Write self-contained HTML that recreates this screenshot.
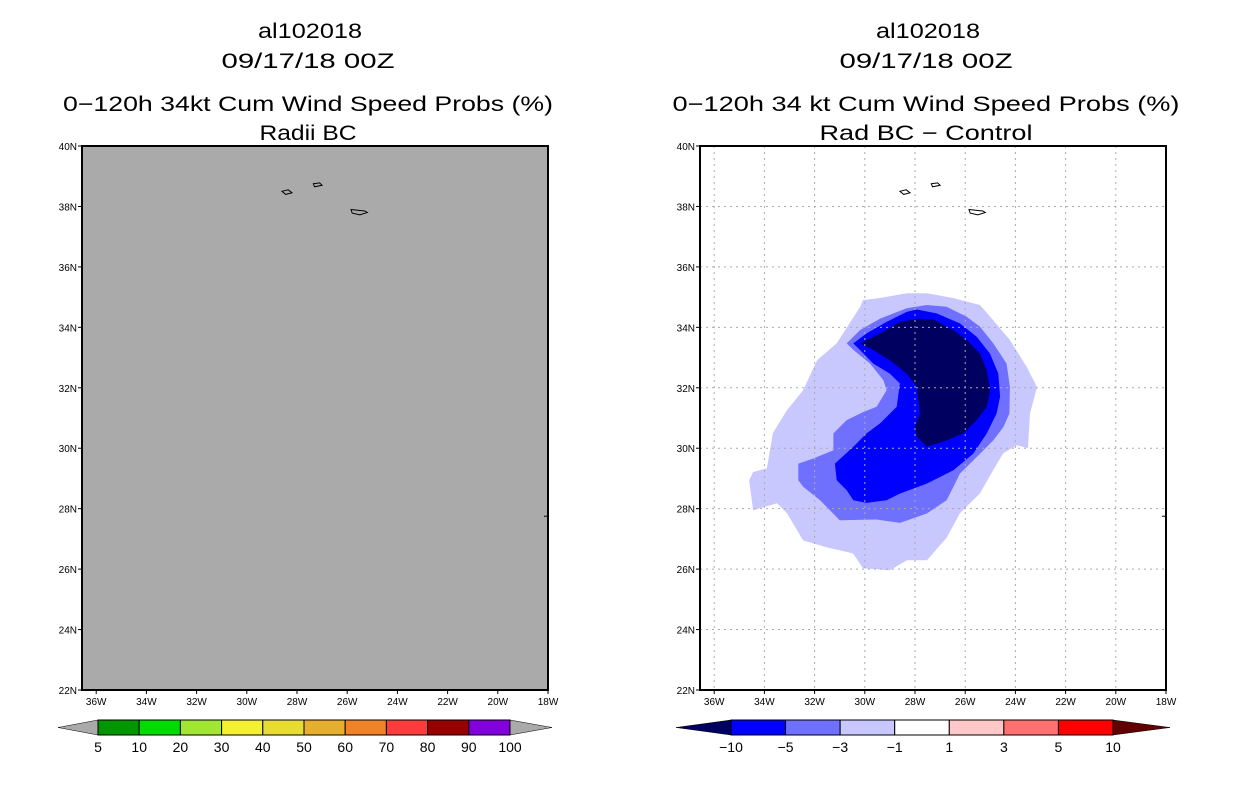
<!DOCTYPE html>
<html><head><meta charset="utf-8"><style>
html,body{margin:0;padding:0;background:#fff;}
svg{display:block;font-family:"Liberation Sans",sans-serif;}
</style></head><body>
<svg id="fig" width="1236" height="800" viewBox="0 0 1236 800" xmlns="http://www.w3.org/2000/svg">
<g font-size="21" text-anchor="middle" fill="#000">
<text x="310" y="38" textLength="104" lengthAdjust="spacingAndGlyphs">al102018</text>
<text x="308" y="68" textLength="173" lengthAdjust="spacingAndGlyphs">09/17/18 00Z</text>
<text x="308" y="111" textLength="490" lengthAdjust="spacingAndGlyphs">0−120h 34kt Cum Wind Speed Probs (%)</text>
<text x="308" y="140" textLength="97" lengthAdjust="spacingAndGlyphs">Radii BC</text>
</g>
<g font-size="21" text-anchor="middle" fill="#000">
<text x="928" y="38" textLength="104" lengthAdjust="spacingAndGlyphs">al102018</text>
<text x="926" y="68" textLength="173" lengthAdjust="spacingAndGlyphs">09/17/18 00Z</text>
<text x="926" y="111" textLength="507" lengthAdjust="spacingAndGlyphs">0−120h 34 kt Cum Wind Speed Probs (%)</text>
<text x="926" y="140" textLength="213" lengthAdjust="spacingAndGlyphs">Rad BC − Control</text>
</g>
<g id="left"></g>
<g id="right"></g>
<g id="cbl"></g>
<g id="cbr"></g>
</svg>
<script>
const lonTicks=[-36,-34,-32,-30,-28,-26,-24,-22,-20,-18];
const latTicks=[22,24,26,28,30,32,34,36,38,40];
const leftLevels=["5","10","20","30","40","50","60","70","80","90","100"];
const leftColors=["#009600","#00dc00","#a0e632","#f5f032","#e6dc32","#e6af2d","#f08228","#fa3c3c","#960000","#8200dc"];
const rightLevels=["−10","−5","−3","−1","1","3","5","10"];
const rightColors=["#0000ff","#7070ff","#c8c8ff","#ffffff","#ffc8c8","#ff7070","#ff0000"];
const polyLight=[[-30.07,34.9],[-29.4,34.97],[-28.32,35.13],[-27.52,35.13],[-26.49,34.97],[-25.41,34.74],[-24.89,34.24],[-24.22,33.58],[-23.54,32.68],[-23.14,32.02],[-23.42,31.16],[-23.5,30.0],[-23.94,30.1],[-24.49,29.83],[-24.89,29.27],[-25.41,28.51],[-26.21,27.85],[-26.73,27.05],[-27.52,26.29],[-28.32,26.29],[-29.0,25.96],[-30.07,26.03],[-30.47,26.52],[-31.51,26.72],[-32.46,26.95],[-33.1,27.85],[-33.5,28.18],[-34.45,27.95],[-34.61,28.94],[-34.45,29.21],[-33.9,29.34],[-33.66,30.5],[-33.1,31.26],[-32.46,31.92],[-31.9,32.91],[-31.11,33.48],[-30.19,34.67]];
const polyMed=[[-30.72,33.47],[-30.19,33.91],[-29.39,34.29],[-28.33,34.63],[-27.53,34.74],[-26.74,34.68],[-25.94,34.35],[-25.41,34.02],[-24.88,33.47],[-24.35,32.8],[-24.22,32.03],[-24.24,31.15],[-24.48,30.7],[-24.88,30.26],[-25.41,29.82],[-26.21,29.16],[-26.47,28.72],[-26.74,28.28],[-27.53,27.84],[-28.6,27.53],[-29.53,27.64],[-31.0,27.62],[-31.78,28.28],[-32.45,28.72],[-32.65,28.94],[-32.65,29.49],[-32.05,29.66],[-31.25,29.93],[-31.25,30.49],[-30.72,30.93],[-30.06,31.2],[-29.53,31.37],[-29.13,31.92],[-29.26,32.25],[-29.79,32.8],[-30.45,33.25]];
const polyBlue=[[-30.46,33.47],[-29.93,33.8],[-29.13,34.18],[-28.33,34.51],[-27.93,34.59],[-27.14,34.46],[-26.21,34.13],[-25.54,33.69],[-25.01,33.13],[-24.68,32.47],[-24.61,31.7],[-24.75,31.15],[-25.14,30.49],[-25.68,29.82],[-26.47,29.27],[-27.53,28.83],[-28.6,28.5],[-29.13,28.28],[-29.93,28.19],[-30.46,28.28],[-30.72,28.61],[-31.12,28.94],[-31.19,29.49],[-30.46,30.05],[-29.93,30.49],[-29.39,30.82],[-28.73,31.37],[-28.6,32.14],[-29.0,32.47],[-29.66,32.8],[-30.19,33.25]];
const polyNavy=[[-30.19,33.47],[-29.39,33.8],[-28.6,34.18],[-27.8,34.29],[-27.27,34.26],[-26.47,33.91],[-25.94,33.58],[-25.41,33.13],[-25.14,32.58],[-25.01,31.92],[-25.14,31.37],[-25.54,30.93],[-26.08,30.49],[-26.74,30.26],[-27.53,30.05],[-27.93,30.38],[-28.0,30.71],[-27.8,31.15],[-27.93,32.03],[-28.33,32.47],[-29.0,32.91],[-29.66,33.25]];
const island1=[[-28.6,38.5],[-28.35,38.55],[-28.2,38.45],[-28.45,38.4]];
const island2=[[-27.35,38.75],[-27.1,38.78],[-27.0,38.7],[-27.3,38.65]];
const island3=[[-25.85,37.9],[-25.3,37.85],[-25.2,37.8],[-25.5,37.72],[-25.8,37.78]];
const NS="http://www.w3.org/2000/svg";
function mk(tag,attrs,parent){const e=document.createElementNS(NS,tag);for(const k in attrs)e.setAttribute(k,attrs[k]);parent.appendChild(e);return e;}
const PY0=146,PY1=690,LAT0=40,LAT1=22;
function yS(lat){return PY0+(LAT0-lat)*(PY1-PY0)/(LAT0-LAT1);}
function makeX(right){return lon=>right+(lon+18)*25.1;}
function pts(poly,x){return poly.map(p=>x(p[0]).toFixed(1)+","+yS(p[1]).toFixed(1)).join(" ");}
function drawMap(g,x0,x1,gray,diff){
  const x=makeX(x1);
  const bg=mk('rect',{x:x0,y:PY0,width:x1-x0,height:PY1-PY0,fill:gray?"#aaaaaa":"#fff"},g);
  
  
  if(diff){
    [[polyLight,"#c8c8ff","contour-minus1-to-minus3"],[polyMed,"#7070ff","contour-minus3-to-minus5"],[polyBlue,"#0000ff","contour-minus5-to-minus10"],[polyNavy,"#000060","contour-below-minus10"]].forEach(([p,c,n])=>{
      const e=mk('polygon',{points:pts(p,x),fill:c},g);
      
      
    });
    lonTicks.forEach(l=>{const e=mk('line',{x1:x(l),x2:x(l),y1:PY0,y2:PY1,stroke:"#aaa","stroke-dasharray":"2,4"},g);
      
      });
    latTicks.forEach(l=>{const e=mk('line',{x1:x0,x2:x1,y1:yS(l),y2:yS(l),stroke:"#aaa","stroke-dasharray":"2,4"},g);
      
      });
  }
  [island1,island2,island3].forEach(p=>{const e=mk('polygon',{points:pts(p,x),fill:"none",stroke:"#000","stroke-width":1},g);
    
    });
  const cst=mk('line',{x1:x1-4,x2:x1,y1:yS(27.75),y2:yS(27.75),stroke:"#000"},g);
  
  
  const fr=mk('rect',{x:x0,y:PY0,width:x1-x0,height:PY1-PY0,fill:"none",stroke:"#000","stroke-width":2},g);
  
  
  lonTicks.forEach(l=>{
    const t=mk('text',{x:x(l),y:PY1+15,"font-size":10,"text-anchor":"middle"},g);t.textContent=(-l)+"W";
    
    
    mk('line',{x1:x(l),x2:x(l),y1:PY1,y2:PY1+4,stroke:"#000"},g);
  });
  latTicks.forEach(l=>{
    const t=mk('text',{x:x0-5,y:yS(l)+4,"font-size":10,"text-anchor":"end"},g);t.textContent=l+"N";
    
    
    mk('line',{x1:x0-4,x2:x0,y1:yS(l),y2:yS(l),stroke:"#000"},g);
  });
}
drawMap(document.getElementById('left'),82,548,true,false);
drawMap(document.getElementById('right'),700,1166,false,true);
function drawBar(g,xs,xe,tl,tr,cols,labels,lcol,rcol){
  const y0=720,y1=735,ym=727.5,w=(xe-xs)/cols.length;
  const a=mk('polygon',{points:`${tl},${ym} ${xs},${y0} ${xs},${y1}`,fill:lcol,stroke:"#000","stroke-width":0.5},g);
  
  
  const b=mk('polygon',{points:`${tr},${ym} ${xe},${y0} ${xe},${y1}`,fill:rcol,stroke:"#000","stroke-width":0.5},g);
  
  
  cols.forEach((c,i)=>{const r=mk('rect',{x:xs+i*w,y:y0,width:w,height:y1-y0,fill:c,stroke:"#000","stroke-width":1},g);
    
    });
  labels.forEach((s,i)=>{const t=mk('text',{x:xs+i*w,y:752,"font-size":14,"text-anchor":"middle"},g);t.textContent=s;
    
    });
}
drawBar(document.getElementById('cbl'),98,510,58,552,leftColors,leftLevels,"#aaaaaa","#aaaaaa");
drawBar(document.getElementById('cbr'),731,1113,676,1170,rightColors,rightLevels,"#000060","#600000");
</script>
</body></html>
